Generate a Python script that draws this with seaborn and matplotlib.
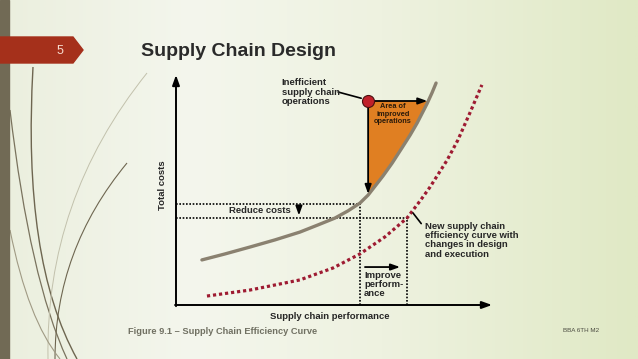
import numpy as np
import pandas as pd
import matplotlib
matplotlib.use('Agg')
import matplotlib.pyplot as plt
from matplotlib.colors import LinearSegmentedColormap
from matplotlib.patches import Polygon, PathPatch, Rectangle
from matplotlib.path import Path
import seaborn as sns

sns.set_theme(style='white')
plt.rcParams['font.family'] = ['Liberation Sans', 'DejaVu Sans']

# Data (performance 0-100, total cost 0-100)
current_perf = [8.2, 15.5, 23.4, 31.3, 39.2, 44.9, 50.3, 54.4, 58.2, 60.8, 65.5, 68.4,
                71.5, 74.1, 76.3, 79.4, 81.0, 82.3]
current_cost = [19.6, 22.2, 25.2, 28.3, 31.7, 34.8, 37.8, 40.9, 44.3, 47.8, 56.1, 61.7,
                68.3, 73.9, 79.1, 87.4, 92.2, 96.5]
new_perf = [9.8, 23.4, 39.2, 49.7, 58.2, 66.1, 73.1, 77.2, 80.4, 85.8, 89.2, 93.0, 96.8]
new_cost = [3.9, 6.5, 10.9, 16.1, 22.2, 29.6, 37.8, 45.2, 51.3, 63.0, 71.7, 83.5, 95.7]

inefficient_pt = (60.8, 88.7)
cost_levels = [43.9, 37.8]      # before / after
perf_levels = [58.2, 73.1]      # before / after

title = 'Supply Chain Design'
caption = 'Figure 9.1 \u2013 Supply Chain Efficiency Curve'
xlabel = 'Supply chain performance'
ylabel = 'Total costs'

W, H = 638, 359
fig = plt.figure(figsize=(W / 100, H / 100), dpi=100)

# ---- slide background -------------------------------------------------
bg = fig.add_axes([0, 0, 1, 1])
bg.set_xlim(0, W)
bg.set_ylim(H, 0)
bg.axis('off')
stops = [0, 0.3, 0.6, 1.0]
cols = ['#EBEFDE', '#F4F6ED', '#EEF2E0', '#E0E9C5']
cmap = LinearSegmentedColormap.from_list('bg', list(zip(stops, cols)))
grad = np.tile(np.linspace(0, 1, 300), (50, 1))
bg.imshow(grad, cmap=cmap, extent=[0, W, H, 0], aspect='auto', zorder=0)

# decorative grass strokes on the left
strokes = [
    ((33, 67), (22, 260), (77, 359), '#6E6650', 1.0),
    ((10, 110), (30, 280), (67, 359), '#7A735E', 0.9),
    ((147, 73), (45, 200), (48, 359), '#C2C1AC', 0.7),
    ((127, 163), (55, 250), (55, 359), '#6E6650', 0.8),
    ((10, 230), (28, 320), (60, 359), '#A09A84', 0.8),
]
for p0, p1, p2, c, lw in strokes:
    path = Path([p0, p1, p2], [Path.MOVETO, Path.CURVE3, Path.CURVE3])
    bg.add_patch(PathPatch(path, fill=False, ec=c, lw=lw, zorder=1))

bg.add_patch(Rectangle((0, 0), 9, H, color='#716A55', zorder=2))
bg.add_patch(Polygon([(0, 37), (73, 37), (83, 50), (73, 63), (0, 63)],
                     closed=True, color='#A5301B', zorder=3))
bg.text(60, 51, '5', color='#F6DCD0', fontsize=9, ha='center', va='center', zorder=4)

bg.text(141, 52, title, fontsize=14, fontweight='bold', color='#2A2A2A',
        va='center', ha='left')
bg.text(128, 332, caption, fontsize=6.65, fontweight='bold', color='#707062',
        va='center', ha='left')
bg.text(563, 331, 'BBA 6TH M2', fontsize=4.5, color='#4A4A40', va='center', ha='left')

# ---- chart ----------------------------------------------------------------
ax = fig.add_axes([176 / W, (H - 305) / H, 316 / W, 230 / H])
ax.patch.set_alpha(0)

arrow_kw = dict(arrowstyle='-|>,head_length=0.5,head_width=0.18', color='black', lw=1.4,
                shrinkA=0, shrinkB=0)
ax.annotate('', xy=(0, 100), xytext=(0, -0.5), arrowprops=arrow_kw, annotation_clip=False)
ax.annotate('', xy=(100, 0), xytext=(-0.3, 0), arrowprops=arrow_kw, annotation_clip=False)

# orange area between the inefficient point and the current curve
cur_x = np.array(current_perf)
cur_y = np.array(current_cost)
x0, y0 = inefficient_pt
x_top = np.interp(y0, cur_y, cur_x)
y_bot = np.interp(x0, cur_x, cur_y)
keep = (cur_x > x0) & (cur_y < y0)
poly = [(x0, y0), (x_top, y0)] + list(zip(cur_x[keep][::-1], cur_y[keep][::-1])) + [(x0, y_bot)]
ax.add_patch(Polygon(poly, closed=True, fc='#E07F22', ec='none', zorder=1))

# reference dotted guides
dot_kw = dict(color='black', lw=1.2, linestyle=(0, (1, 1)), zorder=2)
ax.plot([0, perf_levels[0]], [cost_levels[0]] * 2, **dot_kw)
ax.plot([0, perf_levels[1]], [cost_levels[1]] * 2, **dot_kw)
ax.plot([perf_levels[0]] * 2, [0, cost_levels[0]], **dot_kw)
ax.plot([perf_levels[1]] * 2, [0, cost_levels[1]], **dot_kw)

curves = pd.DataFrame({'perf': current_perf, 'cost': current_cost})
new_curves = pd.DataFrame({'perf': new_perf, 'cost': new_cost})
sns.lineplot(data=curves, x='perf', y='cost', ax=ax, color='#8A8170', lw=2.4,
             sort=False, estimator=None, zorder=3)
sns.lineplot(data=new_curves, x='perf', y='cost', ax=ax, color='#9E1B32', lw=2.3,
             linestyle=(0, (1, 0.9)), sort=False, estimator=None, zorder=3)

# arrows of the improvement
small = dict(arrowstyle='-|>,head_length=0.45,head_width=0.16', color='black', lw=1.3,
             shrinkA=0, shrinkB=0)
ax.annotate('', xy=(x0, y_bot + 0.5), xytext=(x0, y0), arrowprops=small, zorder=4)
ax.annotate('', xy=(x_top - 0.3, y0), xytext=(x0, y0), arrowprops=small, zorder=4)
ax.annotate('', xy=(38.9, 38.9), xytext=(38.9, 43.2), arrowprops=small, zorder=4)
ax.annotate('', xy=(70.9, 16.5), xytext=(59.8, 16.5), arrowprops=small, zorder=4)

sns.scatterplot(x=[x0], y=[y0], ax=ax, s=75, color='#C0202A', edgecolor='#4A1010',
                linewidth=0.8, zorder=5)

# leader lines
ax.plot([51.3, 58.6], [92.6, 89.9], color='black', lw=1.2, zorder=4)
ax.plot([75.0, 77.6], [40.0, 35.4], color='black', lw=1.2, zorder=4)

fs = 6.8
ax.text(33.5, 98.5, 'Inefficient\nsupply chain\noperations', fontsize=fs, fontweight='bold',
        ha='left', va='top', linespacing=1.05, zorder=6)
ax.text(68.7, 83.0, 'Area of\nimproved\noperations', fontsize=5.3, fontweight='bold',
        ha='center', va='center', linespacing=1.05, color='#2A1A0A', zorder=6)
ax.text(26.6, 40.9, 'Reduce costs', fontsize=fs, fontweight='bold', ha='center', va='center',
        zorder=6)
ax.text(78.8, 36.3, 'New supply chain\nefficiency curve with\nchanges in design\nand execution',
        fontsize=fs, fontweight='bold', ha='left', va='top', linespacing=1.05, zorder=6)
ax.text(59.5, 15.0, 'Improve\nperform-\nance', fontsize=fs, fontweight='bold', ha='left',
        va='top', linespacing=1.05, zorder=6)
ax.text(48.7, -4.8, xlabel, fontsize=fs, fontweight='bold', ha='center', va='center')
ax.text(-4.3, 52.2, ylabel, fontsize=fs, fontweight='bold', ha='center', va='center',
        rotation=90)

ax.set_xlim(0, 100)
ax.set_ylim(0, 100)
ax.axis('off')

fig.savefig('out.png', dpi=100)
